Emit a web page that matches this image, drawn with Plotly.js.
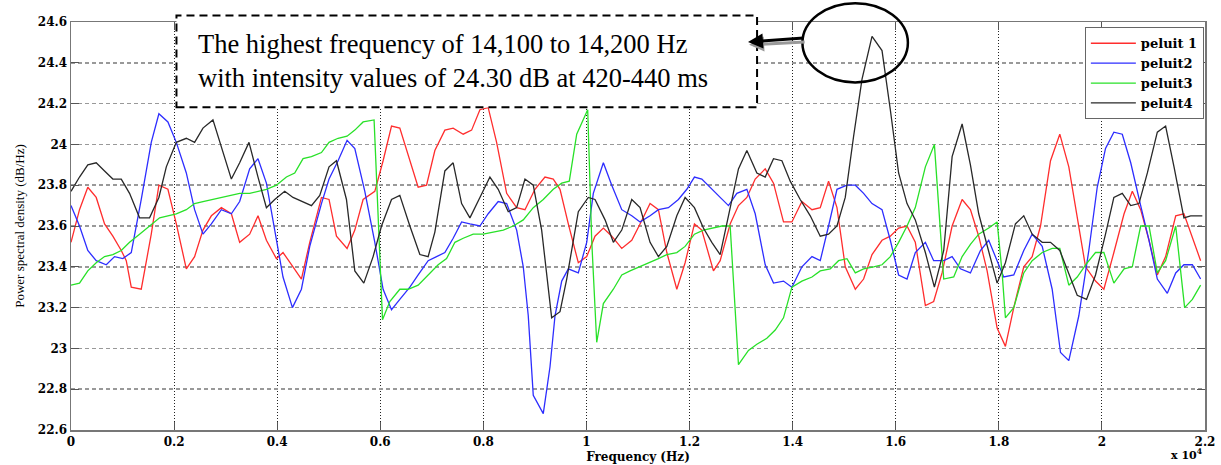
<!DOCTYPE html>
<html>
<head>
<meta charset="utf-8">
<script src="https://cdn.plot.ly/plotly-3.0.1.min.js"></script>
<style>html,body{margin:0;padding:0;background:#fff;}#chart{width:1221px;height:465px;}</style>
</head>
<body>
<div id="chart"></div>
<script>
// ---- data (frequency in Hz, power spectral density in dB/Hz) ----
const seriesNames = ['peluit 1', 'peluit2', 'peluit3', 'peluit4'];

const peluit1Freq = [0,165,326,489,651,812,975,1072,1169,1363,1557,1705,1880,2043,2237,2398,2560,2723,2917,3111,3272,3466,3628,3791,3985,4113,4307,4470,4632,4859,5006,5150,5356,5506,5667,5894,6055,6218,6379,6574,6735,6898,7059,7253,7414,7609,7772,7933,8094,8257,8452,8646,8807,9001,9195,9356,9487,9648,9842,10005,10166,10328,10491,10685,10879,11040,11234,11396,11559,11753,11914,12095,12238,12464,12594,12788,12949,13112,13274,13468,13629,13823,13986,14180,14375,14536,14697,14860,15021,15216,15377,15540,15734,15895,16056,16219,16380,16575,16736,16899,17094,17288,17449,17610,17773,17967,18128,18290,18484,18647,18809,19003,19183,19358,19521,19682,19876,20038,20232,20430,20590,20752,20914,21075,21236,21432,21591,21793,21915];
const peluit1Db = [23.52,23.68,23.79,23.74,23.61,23.55,23.48,23.43,23.30,23.29,23.56,23.80,23.78,23.61,23.39,23.45,23.58,23.65,23.69,23.66,23.52,23.56,23.65,23.53,23.44,23.47,23.40,23.34,23.52,23.74,23.73,23.55,23.49,23.58,23.73,23.77,23.92,24.09,24.08,23.92,23.79,23.80,23.97,24.07,24.08,24.05,24.07,24.17,24.18,24.01,23.76,23.69,23.68,23.78,23.84,23.83,23.78,23.61,23.42,23.45,23.55,23.59,23.55,23.49,23.53,23.61,23.71,23.68,23.47,23.29,23.42,23.61,23.58,23.38,23.43,23.61,23.70,23.74,23.83,23.88,23.81,23.62,23.62,23.72,23.68,23.69,23.82,23.69,23.40,23.29,23.34,23.46,23.53,23.55,23.59,23.60,23.52,23.21,23.23,23.37,23.60,23.73,23.68,23.55,23.38,23.10,23.01,23.20,23.40,23.45,23.60,23.92,24.05,23.89,23.65,23.40,23.33,23.29,23.47,23.66,23.77,23.68,23.53,23.36,23.45,23.65,23.66,23.52,23.43];

const peluit2Freq = [0,165,326,489,684,845,1006,1169,1363,1557,1705,1880,2043,2237,2398,2560,2723,2917,3111,3272,3466,3628,3791,3952,4113,4296,4470,4632,4859,5006,5181,5356,5506,5700,5894,6055,6218,6379,6574,6735,6929,7092,7253,7414,7578,7739,7933,8094,8288,8452,8646,8774,8871,8968,9162,9293,9390,9520,9648,9842,10005,10133,10328,10491,10685,10879,11040,11234,11396,11590,11784,11947,12095,12238,12432,12594,12755,12918,13112,13274,13468,13629,13823,13986,14180,14375,14536,14697,14860,15054,15216,15377,15540,15734,15895,16056,16219,16380,16575,16736,16931,17094,17255,17449,17643,17804,17934,18095,18290,18484,18647,18842,19035,19197,19358,19552,19746,19909,20070,20232,20395,20559,20752,20914,21075,21269,21432,21591,21755,21915];
const peluit2Db = [23.70,23.60,23.48,23.43,23.41,23.45,23.44,23.47,23.73,24.01,24.15,24.11,24.01,23.86,23.68,23.56,23.61,23.68,23.66,23.72,23.88,23.93,23.81,23.58,23.35,23.20,23.29,23.50,23.71,23.83,23.92,24.02,23.98,23.77,23.52,23.29,23.19,23.24,23.30,23.36,23.43,23.45,23.47,23.54,23.62,23.61,23.60,23.66,23.72,23.71,23.58,23.40,23.16,22.77,22.68,22.91,23.16,23.33,23.39,23.37,23.52,23.76,23.91,23.80,23.68,23.65,23.62,23.65,23.68,23.69,23.73,23.78,23.84,23.83,23.78,23.74,23.70,23.76,23.78,23.66,23.41,23.32,23.33,23.30,23.40,23.45,23.43,23.60,23.78,23.80,23.80,23.76,23.71,23.68,23.53,23.36,23.34,23.47,23.52,23.43,23.43,23.45,23.39,23.37,23.48,23.53,23.45,23.35,23.36,23.48,23.56,23.50,23.29,22.98,22.94,23.16,23.48,23.79,23.98,24.06,24.05,23.91,23.70,23.53,23.34,23.27,23.37,23.41,23.41,23.34];

const peluit3Freq = [0,165,326,489,651,812,975,1136,1330,1524,1719,1880,2043,2237,2398,2560,2754,2917,3111,3272,3466,3628,3791,3985,4179,4340,4502,4665,4859,5006,5181,5356,5506,5667,5880,6043,6185,6379,6541,6735,6898,7123,7286,7448,7609,7803,7997,8191,8386,8580,8774,8968,9162,9356,9520,9667,9811,10024,10102,10199,10328,10522,10685,10846,11040,11234,11396,11559,11753,11914,12095,12269,12464,12627,12788,12949,13143,13306,13500,13662,13823,13986,14180,14375,14536,14730,14891,15054,15216,15377,15571,15734,15895,16056,16219,16380,16575,16750,16931,17125,17288,17449,17610,17804,17967,18064,18128,18290,18484,18647,18842,19035,19183,19358,19521,19715,19876,20038,20232,20430,20590,20752,20914,21075,21236,21432,21605,21755,21915];
const peluit3Db = [23.31,23.32,23.38,23.42,23.45,23.46,23.48,23.52,23.56,23.60,23.64,23.65,23.66,23.68,23.71,23.72,23.73,23.74,23.75,23.76,23.76,23.77,23.78,23.80,23.84,23.86,23.93,23.94,23.96,24.01,24.03,24.04,24.07,24.11,24.12,23.14,23.23,23.29,23.29,23.31,23.35,23.41,23.44,23.52,23.54,23.56,23.56,23.57,23.58,23.60,23.63,23.69,23.73,23.78,23.81,23.82,24.05,24.17,23.53,23.03,23.22,23.29,23.36,23.38,23.40,23.42,23.44,23.46,23.47,23.50,23.56,23.58,23.59,23.60,23.60,22.92,22.99,23.02,23.05,23.09,23.15,23.30,23.33,23.35,23.38,23.39,23.43,23.44,23.37,23.39,23.40,23.41,23.45,23.52,23.60,23.69,23.89,24.00,23.34,23.35,23.45,23.51,23.56,23.59,23.62,23.37,23.15,23.20,23.37,23.43,23.47,23.49,23.49,23.31,23.35,23.42,23.47,23.47,23.32,23.39,23.40,23.60,23.60,23.37,23.43,23.60,23.20,23.24,23.31];

const peluit4Freq = [0,165,326,489,651,812,975,1136,1330,1524,1705,1849,2043,2237,2398,2560,2754,2917,3111,3272,3453,3628,3791,3952,4146,4307,4502,4665,4826,5006,5150,5344,5506,5681,5861,6024,6218,6379,6574,6768,6929,7059,7253,7414,7578,7739,7933,8127,8288,8483,8646,8807,8968,9131,9325,9487,9617,9842,10036,10166,10361,10522,10685,10879,11040,11234,11396,11559,11753,11914,12095,12269,12432,12594,12755,12949,13112,13306,13468,13629,13792,13953,14147,14342,14536,14697,14860,15021,15183,15346,15540,15734,15895,16056,16219,16380,16575,16750,16931,17094,17288,17449,17610,17804,17967,18128,18322,18484,18647,18842,19003,19183,19358,19521,19702,19876,20070,20232,20395,20559,20719,20882,21075,21236,21399,21591,21722,21852,21948];
const peluit4Db = [23.77,23.84,23.90,23.91,23.87,23.83,23.83,23.76,23.64,23.64,23.74,23.89,24.01,24.03,24.01,24.08,24.12,23.99,23.83,23.91,24.01,23.84,23.69,23.73,23.77,23.74,23.72,23.70,23.75,23.89,23.92,23.73,23.38,23.32,23.45,23.60,23.73,23.75,23.60,23.46,23.45,23.57,23.87,23.91,23.71,23.64,23.74,23.84,23.78,23.67,23.69,23.83,23.80,23.58,23.15,23.18,23.34,23.67,23.74,23.73,23.63,23.52,23.58,23.73,23.69,23.52,23.45,23.50,23.65,23.74,23.69,23.59,23.52,23.46,23.65,23.88,23.97,23.86,23.84,23.93,23.92,23.82,23.73,23.65,23.55,23.56,23.60,23.74,24.04,24.32,24.53,24.46,24.17,23.86,23.71,23.63,23.47,23.30,23.48,23.94,24.10,23.90,23.66,23.47,23.32,23.42,23.61,23.65,23.56,23.52,23.52,23.48,23.37,23.26,23.24,23.36,23.56,23.74,23.76,23.70,23.71,23.86,24.06,24.09,23.89,23.64,23.65,23.65,23.65];

const xTickVals = [0,2000,4000,6000,8000,10000,12000,14000,16000,18000,20000,22000];
const xTickLabels = ['0','0.2','0.4','0.6','0.8','1','1.2','1.4','1.6','1.8','2','2.2'];

const noteText = 'The highest frequency of 14,100 to 14,200 Hz<br>with intensity values of 24.30 dB at 420-440 ms';

// ---- chart ----
const colors = ['rgb(255,45,45)', 'rgb(45,45,255)', 'rgb(40,225,40)', 'rgb(40,40,40)'];
const freqs = [peluit1Freq, peluit2Freq, peluit3Freq, peluit4Freq];
const vals = [peluit1Db, peluit2Db, peluit3Db, peluit4Db];

const traces = seriesNames.map((n, i) => ({
  type: 'scatter', mode: 'lines', name: n,
  x: freqs[i], y: vals[i],
  line: {color: colors[i], width: 1.3}
}));

const serif = 'Liberation Serif, Times New Roman, serif';
const boldSerif = 'DejaVu Serif, serif';

const layout = {
  width: 1221, height: 465,
  margin: {l: 71, r: 16, t: 22, b: 35},
  paper_bgcolor: '#fff', plot_bgcolor: '#fff',
  showlegend: true,
  legend: {
    x: 0.999, xanchor: 'right', y: 0.987, yanchor: 'top',
    bgcolor: '#fff', bordercolor: '#666', borderwidth: 1,
    font: {family: boldSerif, size: 13, weight: 'bold', color: '#000'},
    itemwidth: 45, tracegroupgap: 0
  },
  xaxis: {
    range: [0, 22000], tickvals: xTickVals, ticktext: xTickLabels,
    showgrid: true, gridcolor: '#222', griddash: '1px,2px', gridwidth: 1,
    zeroline: false, showline: true, linecolor: '#777', linewidth: 1.5, mirror: 'ticks',
    ticks: 'inside', ticklen: 8, tickcolor: '#555', tickwidth: 1,
    tickfont: {family: boldSerif, size: 12, weight: 'bold', color: '#000'},
    title: {text: 'Frequency (Hz)', font: {family: boldSerif, size: 12, weight: 'bold', color: '#000'}, standoff: 4}
  },
  yaxis: {
    range: [22.6, 24.6], dtick: 0.2, tick0: 22.6,
    showgrid: true, gridcolor: '#999', griddash: '4px,3px', gridwidth: 1.5,
    zeroline: false, showline: true, linecolor: '#777', linewidth: 1.5, mirror: 'ticks',
    ticks: 'inside', ticklen: 8, tickcolor: '#555', tickwidth: 1,
    tickfont: {family: boldSerif, size: 12, weight: 'bold', color: '#000'},
    title: {text: 'Power spectral density (dB/Hz)', font: {family: serif, size: 13, color: '#000'}, standoff: 10}
  },
  shapes: [
    {type: 'rect', xref: 'paper', yref: 'paper', x0: 0.093, x1: 0.605, y0: 0.791, y1: 1.016,
     fillcolor: '#fff', line: {color: '#000', width: 2, dash: '8px,5px'}, layer: 'above'},
    {type: 'circle', xref: 'paper', yref: 'paper', x0: 0.645, x1: 0.738, y0: 0.852, y1: 1.046,
     line: {color: '#000', width: 2.5}, layer: 'above'}
  ],
  annotations: [
    {xref: 'paper', yref: 'paper', x: 0.1105, y: 0.904, xanchor: 'left', yanchor: 'middle', align: 'left',
     text: noteText, showarrow: false, font: {family: serif, size: 26.5, color: '#000'}},
    {xref: 'paper', yref: 'paper', x: 0.598, y: 0.944, text: '', showarrow: true,
     ax: 57, ay: -3, arrowhead: 2, arrowsize: 1, arrowwidth: 3, arrowcolor: '#999'},
    {xref: 'paper', yref: 'paper', x: 0.597, y: 0.951, text: '', showarrow: true,
     ax: 57, ay: -4, arrowhead: 2, arrowsize: 1, arrowwidth: 3, arrowcolor: '#000'},
    {xref: 'paper', yref: 'paper', x: 1.0, y: -0.037, xanchor: 'right', yanchor: 'top',
     text: 'x 10<sup>4</sup>', showarrow: false, font: {family: boldSerif, size: 11, weight: 'bold', color: '#000'}}
  ]
};

Plotly.newPlot('chart', traces, layout, {displayModeBar: false, staticPlot: true});
</script>
</body>
</html>
